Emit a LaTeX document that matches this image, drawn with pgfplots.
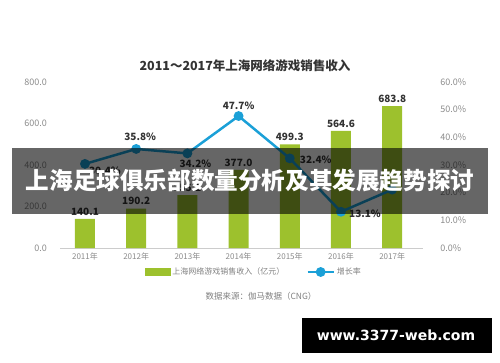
\documentclass[border=0pt]{standalone}
\usepackage{pgfplots}
\pgfplotsset{compat=1.18}
\usepackage{fontspec}
\setmainfont{Noto Sans CJK SC}
\newfontfamily\dejavu{DejaVu Sans}
\definecolor{bargreen}{HTML}{9DC12D}
\definecolor{lineblue}{HTML}{1BA0D7}
\definecolor{ticktext}{HTML}{8A8A8A}
\definecolor{labeltext}{HTML}{333333}
\begin{document}
\begin{tikzpicture}[x=1pt,y=1pt]
\path[use as bounding box] (0,0) rectangle (500,362);
\begin{axis}[
  at={(60.4pt,114pt)}, anchor=south west, scale only axis,
  width=362.5pt, height=166pt,
  xmin=-0.48, xmax=6.6, ymin=0, ymax=800,
  axis x line*=bottom, axis y line*=left,
  y axis line style={draw=none},
  x axis line style={draw=gray!40, line width=0.8pt, -},
  major tick length=0pt,
  xtick={0,...,6},
  xticklabels={2011年,2012年,2013年,2014年,2015年,2016年,2017年},
  xticklabel style={font=\fontsize{8}{9}\selectfont, text=ticktext, yshift=-1pt},
  ytick={0,200,...,800},
  /pgf/number format/assume math mode=true,
  yticklabel={\pgfmathprintnumber[fixed,fixed zerofill,precision=1]{\tick}},
  yticklabel style={font=\fontsize{9}{10}\selectfont, text=ticktext, xshift=-10pt},
]
\addplot[ybar, bar width=20pt, fill=bargreen, draw=none,
  nodes near coords={\pgfmathprintnumber[fixed,fixed zerofill,precision=1]{\pgfplotspointmeta}},
  nodes near coords style={font=\fontsize{10}{12}\selectfont\bfseries, text=labeltext, anchor=south, yshift=0pt}]
coordinates {(0,140.1)(1,190.2)(2,255.2)(3,377.0)(4,499.3)(5,564.6)(6,683.8)};
\end{axis}
\begin{axis}[
  at={(60.4pt,114pt)}, anchor=south west, scale only axis,
  width=362.5pt, height=166pt,
  xmin=-0.48, xmax=6.6, ymin=0, ymax=60,
  axis x line=none, axis y line*=right,
  y axis line style={draw=none},
  major tick length=0pt,
  ytick={0,10,...,60},
  /pgf/number format/assume math mode=true,
  yticklabel={\pgfmathprintnumber[fixed,fixed zerofill,precision=1]{\tick}\%},
  yticklabel style={font=\fontsize{9}{10}\selectfont, text=ticktext, xshift=14pt},
  legend style={at={(0.534,-0.1446)}, anchor=center, draw=none, fill=none,
    legend columns=2, font=\fontsize{8}{9}\selectfont, text=gray,
    /tikz/every even column/.append style={column sep=20pt}},
]
\addlegendimage{legend image code/.code={\fill[bargreen] (0pt,-3.5pt) rectangle (25pt,3.5pt);}}
\addlegendentry{上海网络游戏销售收入（亿元）}
\addplot[lineblue, line width=2.5pt, mark=*, mark size=3.6pt,
  legend image code/.code={\draw[lineblue, line width=2.5pt] (0pt,0pt)--(26pt,0pt); \fill[lineblue] (13pt,0pt) circle (3.6pt);}]
coordinates {(0,30.4)(1,35.8)(2,34.2)(3,47.7)(4,32.4)(5,13.1)(6,21.1)};
\addlegendentry{增长率}
\addplot[draw=none, mark=none, forget plot,
  visualization depends on={\thisrow{dx}\as\dx},
  visualization depends on={\thisrow{dy}\as\dy},
  nodes near coords={\pgfmathprintnumber[fixed,fixed zerofill,precision=1]{\pgfplotspointmeta}\%},
  nodes near coords style={font=\fontsize{10}{12}\selectfont\bfseries, text=labeltext, anchor=center, xshift=\dx pt, yshift=\dy pt}]
table {
x y dx dy
0 30.4 20 -7
1 35.8 4 12
2 34.2 8 -10
3 47.7 0 10
4 32.4 26 -1
5 13.1 24 -2
};
\end{axis}
\node[font=\fontsize{12.5}{14}\selectfont\bfseries, text=labeltext] at (245,296) {2011～2017年上海网络游戏销售收入};
\node[font=\fontsize{8.5}{10}\selectfont, text=gray] at (261,66) {数据来源：伽马数据（CNG）};
\fill[black, opacity=0.6] (12,148) rectangle (488,214);
\node[font=\fontsize{23.6}{26}\selectfont\bfseries, text=white, inner sep=0pt] at (250,181) {上海足球俱乐部数量分析及其发展趋势探讨};
\fill[black] (302,9) rectangle (492,44);
\node[font=\dejavu\bfseries\fontsize{14}{16}\selectfont, text=white, inner sep=0pt] at (396,26.5) {www.3377-web.com};
\end{tikzpicture}
\end{document}
